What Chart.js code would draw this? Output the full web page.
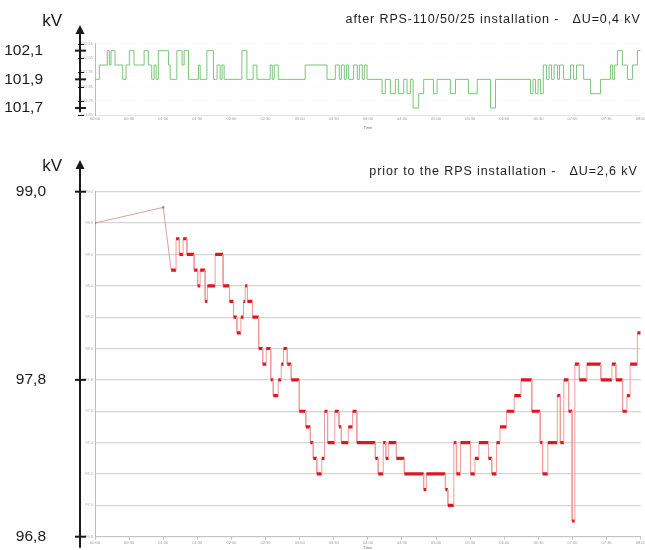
<!DOCTYPE html>
<html><head><meta charset="utf-8">
<script src="https://cdn.jsdelivr.net/npm/chart.js@4.4.1/dist/chart.umd.min.js"></script>
<style>
html,body{margin:0;padding:0;background:#fff;}
#wrapTop{position:absolute;left:0;top:0;width:645px;height:130px;}
#wrapBot{position:absolute;left:0;top:140px;width:645px;height:410px;}
canvas{display:block;}
</style></head><body>
<div id="wrapTop"><canvas id="cTop" width="645" height="130"></canvas></div>
<div id="wrapBot"><canvas id="cBot" width="645" height="410"></canvas></div>
<script>
// ---------- data ----------
const timeTickLabels = ['00:00','00:30','01:00','01:30','02:00','02:30','03:00','03:30','04:00','04:30','05:00','05:30','06:00','06:30','07:00','07:30','08:00'];
const xAxisTitle = 'Time';
const unitLabel = 'kV';

const topTitle = 'after RPS-110/50/25 installation -   \u0394U=0,4 kV';
const topBigTicks = [101.7, 101.9, 102.1];
const topRunStartMin = [0,3.8,10.8,12.6,14.1,17.6,24.4,27.3,30.2,34.3,43.2,46.9,49.9,52.0,53.7,55.7,64.6,66.1,72.0,76.6,78.4,82.2,91.0,92.5,98.4,104.2,107.4,110.1,111.8,113.6,129.2,133.6,139.1,142.4,154.1,155.9,157.6,161.2,184.9,204.1,211.4,214.9,216.7,219.3,221.1,223.1,227.5,230.7,232.5,235.1,236.9,239.3,252.5,255.4,259.8,264.2,266.9,271.5,274.5,277.4,279.8,284.7,289.1,297.7,300.9,312.6,317.1,328.5,336.2,347.9,352.3,383.1,385.3,387.5,389.7,391.9,394.3,397.2,399.4,401.6,403.8,406.9,408.6,412.2,418.3,421.0,423.6,429.8,435.9,444.7,453.5,455.3,457.1,459.5,463.9,468.3,472.7,477.1];
const topRunKV = [101.9,102.0,102.1,102.0,102.1,102.0,101.9,102.0,102.1,102.0,
102.1,102.0,101.9,102.0,101.9,102.1,102.0,101.9,102.1,102.0,
102.1,101.9,102.0,101.9,102.1,101.9,102.0,101.9,102.0,101.9,
102.1,101.9,102.0,101.9,102.0,101.9,102.0,101.9,102.0,101.9,
102.0,101.9,102.0,101.9,102.0,101.9,102.0,101.9,102.0,101.9,
102.0,101.9,101.8,101.9,101.8,101.9,101.8,101.9,101.8,101.9,
101.7,101.8,101.9,101.8,101.9,101.8,101.9,101.8,101.9,101.7,
101.9,101.8,101.9,101.8,101.9,101.8,102.0,101.9,102.0,101.9,
102.0,101.9,102.0,101.9,102.0,101.9,102.0,101.9,101.8,101.9,
102.0,101.9,102.0,102.1,102.0,101.9,102.0,102.1];
const topEndMin = 480;

const botTitle = 'prior to the RPS installation -   \u0394U=2,6 kV';
const botBigTicks = [96.8, 97.8, 99.0];
const botLeadMin = [0, 60];
const botLeadKV = [98.8, 98.9];
const botRunStartMin = [67,71.3,74.2,77.5,80.8,87.2,90.3,92.5,96.9,98.9,105.7,112.7,118.3,121.8,124.8,128.3,130.6,132.1,134.1,138.5,144.0,147.5,150.6,154.6,156.8,161.2,163.8,165.8,169.1,172.6,179.7,185.4,189.4,192.0,195.1,199.5,201.9,204.6,210.9,214.6,216.7,222.8,226.6,230.3,246.6,249.1,253.5,255.8,258.3,265.1,272.1,289.1,291.5,308.2,310.4,315.6,317.9,321.5,330.3,334.2,337.7,346.1,349.0,353.2,356.2,362.0,368.8,374.7,384.2,391.6,393.7,398.3,406.6,409.3,412.4,416.6,419.7,422.1,426.0,432.6,444.9,454.7,458.2,464.1,467.9,470.7,477.1];
const botRunKV = [98.5,98.7,98.6,98.7,98.6,98.5,98.4,98.5,98.3,98.4,
98.6,98.4,98.3,98.2,98.1,98.2,98.3,98.4,98.3,98.2,
98.0,97.9,98.0,97.8,97.7,97.8,97.9,98.0,97.9,97.8,
97.6,97.5,97.4,97.3,97.2,97.3,97.6,97.4,97.6,97.5,
97.4,97.5,97.6,97.4,97.3,97.2,97.4,97.3,97.4,97.3,
97.2,97.1,97.2,97.1,97.0,97.4,97.2,97.4,97.2,97.3,
97.4,97.3,97.2,97.4,97.5,97.6,97.7,97.8,97.6,97.4,
97.2,97.4,97.7,97.4,97.8,97.6,96.9,97.9,97.8,97.9,
97.8,97.9,97.8,97.6,97.7,97.9,98.1];
const botEndMin = 480;

// ---------- helpers ----------
const SANS = '"Liberation Sans", Arial, sans-serif';
const comma = v => v.toFixed(1).replace('.', ',');
const noPad = s => { s.paddingTop = 0; s.paddingBottom = 0; s.paddingLeft = 0; s.paddingRight = 0; };

const blackAxis = {
  id: 'blackAxis',
  afterDraw(chart, args, o) {
    const ctx = chart.ctx, s = chart.scales.yL, inner = chart.scales.y;
    const x = s.right;
    const tip = chart.chartArea.top - o.tipOffset;
    const bot = chart.chartArea.bottom + o.bottomExtend;
    ctx.save();
    ctx.strokeStyle = '#1a1a1a';
    ctx.fillStyle = '#1a1a1a';
    ctx.lineWidth = 2;
    ctx.beginPath(); ctx.moveTo(x, tip + 6); ctx.lineTo(x, bot); ctx.stroke();
    ctx.beginPath(); ctx.moveTo(x, tip); ctx.lineTo(x - 4.5, tip + 9); ctx.lineTo(x + 4.5, tip + 9); ctx.closePath(); ctx.fill();
    if (o.minor) {
      ctx.lineWidth = 1;
      inner.ticks.forEach(t => {
        const y = Math.round(inner.getPixelForValue(t.value)) + 0.5;
        ctx.beginPath(); ctx.moveTo(x - 2, y); ctx.lineTo(x + 4, y); ctx.stroke();
      });
    }
    ctx.lineWidth = 2;
    s.ticks.forEach(t => {
      const y = s.getPixelForValue(t.value);
      ctx.beginPath(); ctx.moveTo(x - 5, y); ctx.lineTo(x + 6, y); ctx.stroke();
    });
    ctx.font = '17px ' + SANS;
    ctx.textAlign = 'right';
    ctx.textBaseline = 'middle';
    ctx.fillText(unitLabel, x - 18, tip + o.unitDy);
    // chart caption
    ctx.font = '12.5px ' + SANS;
    ctx.fillStyle = '#1e1e1e';
    try { ctx.letterSpacing = '0.9px'; } catch (e) {}
    ctx.fillText(o.caption, chart.chartArea.right + o.captionDx, chart.chartArea.top - o.captionDy);
    ctx.restore();
  }
};

function xScale(height, tickLen) {
  return {
    type: 'linear', min: 0, max: 480, position: 'bottom',
    ticks: { stepSize: 30, autoSkip: false, maxRotation: 0, font: { size: 4, family: SANS }, color: '#9a9a9a', padding: 1,
      callback: v => timeTickLabels[Math.round(v / 30)] ?? '' },
    grid: { drawOnChartArea: false, drawTicks: tickLen > 0, tickLength: tickLen, color: '#c4c4c4' },
    border: { display: true, color: tickLen > 0 ? '#c4c4c4' : '#e2e2e2' },
    title: { display: true, text: xAxisTitle, font: { size: 4, family: SANS }, color: '#777', padding: 0 },
    afterFit: s => { s.height = height; noPad(s); }
  };
}

// ---------- top chart ----------
const topData = topRunStartMin.map((t, i) => ({ x: t, y: topRunKV[i] }));
topData.push({ x: topEndMin, y: topRunKV[topRunKV.length - 1] });

new Chart(document.getElementById('cTop'), {
  type: 'line',
  data: { datasets: [{ data: topData, stepped: true, borderColor: '#7cc47c', borderWidth: 1, pointRadius: 0, fill: false }] },
  options: {
    responsive: false, animation: false, events: [],
    layout: { padding: { left: 0, right: 4.3, top: 43.5, bottom: 0 } },
    plugins: {
      legend: { display: false }, tooltip: { enabled: false }, title: { display: false },
      blackAxis: { tipOffset: 18.5, bottomExtend: -3, unitDy: -4, minor: true, caption: topTitle, captionDx: 0, captionDy: 23.5 }
    },
    scales: {
      x: xScale(14.8, 0),
      y: { type: 'linear', min: 101.65, max: 102.15, position: 'left', weight: 0,
        ticks: { stepSize: 0.05, font: { size: 4, family: SANS }, color: '#aaa', padding: 2, callback: v => v.toFixed(2) },
        grid: { color: 'rgba(0,0,0,0.045)', drawTicks: false },
        border: { display: true, color: '#bdbdbd', dash: [1, 2] },
        afterFit: s => { s.width = 15; noPad(s); } },
      yL: { type: 'linear', min: 101.65, max: 102.15, position: 'left', weight: 1,
        afterBuildTicks: s => { s.ticks = topBigTicks.map(v => ({ value: v })); },
        ticks: { font: { size: 15.5, family: SANS }, color: '#1a1a1a', padding: 37, callback: v => comma(v) },
        grid: { display: false, drawTicks: false }, border: { display: false },
        afterFit: s => { s.width = 80; noPad(s); } }
    }
  },
  plugins: [blackAxis]
});

// ---------- bottom chart ----------
const botData = botLeadMin.map((t, i) => ({ x: t, y: botLeadKV[i] }));
botRunStartMin.forEach((t, i) => {
  const end = i + 1 < botRunStartMin.length ? botRunStartMin[i + 1] : botEndMin;
  botData.push({ x: t, y: botRunKV[i] });
  botData.push({ x: end, y: botRunKV[i] });
});
const isRun = c => c.p0DataIndex >= botLeadMin.length && c.p0.parsed.y === c.p1.parsed.y && c.p1.parsed.x > c.p0.parsed.x;

new Chart(document.getElementById('cBot'), {
  type: 'line',
  data: { datasets: [{
    data: botData, borderColor: '#f09a9a', borderWidth: 1, fill: false,
    pointRadius: c => c.dataIndex < botLeadMin.length ? 1.6 : 0,
    pointBackgroundColor: '#8a8a8a', pointBorderWidth: 0, pointStyle: 'rect',
    segment: {
      borderWidth: c => isRun(c) ? 3.2 : 1,
      borderColor: c => isRun(c) ? '#da1820' : (c.p0DataIndex < botLeadMin.length ? '#d9a0a0' : '#f29c9c')
    }
  }] },
  options: {
    responsive: false, animation: false, events: [],
    layout: { padding: { left: 0, right: 4.3, top: 51.7, bottom: 0 } },
    plugins: {
      legend: { display: false }, tooltip: { enabled: false }, title: { display: false },
      blackAxis: { tipOffset: 31.7, bottomExtend: 11, unitDy: 6, minor: false, caption: botTitle, captionDx: -3, captionDy: 19.7 }
    },
    scales: {
      x: xScale(13.3, 3),
      y: { type: 'linear', min: 96.8, max: 99.0, position: 'left', weight: 0,
        ticks: { stepSize: 0.2, font: { size: 4, family: SANS }, color: '#aaa', padding: 2, callback: v => v.toFixed(1) },
        grid: { color: '#d4d4d4', lineWidth: 1.3, drawTicks: false },
        border: { display: true, color: '#bdbdbd' },
        afterFit: s => { s.width = 15; noPad(s); } },
      yL: { type: 'linear', min: 96.8, max: 99.0, position: 'left', weight: 1,
        afterBuildTicks: s => { s.ticks = botBigTicks.map(v => ({ value: v })); },
        ticks: { font: { size: 15.5, family: SANS }, color: '#1a1a1a', padding: 34, callback: v => comma(v) },
        grid: { display: false, drawTicks: false }, border: { display: false },
        afterFit: s => { s.width = 80; noPad(s); } }
    }
  },
  plugins: [blackAxis]
});
</script></body></html>
